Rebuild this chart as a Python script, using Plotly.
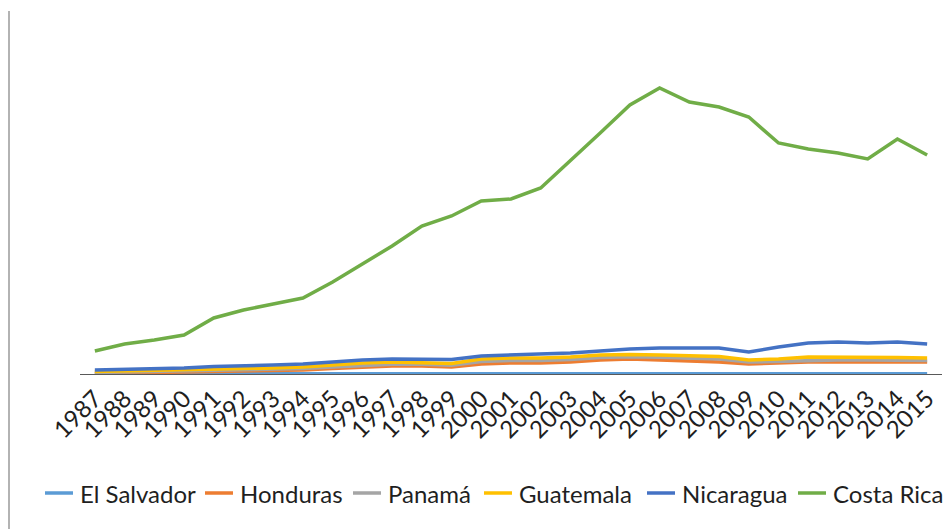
import plotly.graph_objects as go

years = [str(y) for y in range(1987, 2016)]

el_salvador = [3, 3, 3, 3, 3, 3, 3, 3, 3, 3, 3, 3, 3, 3, 3, 3, 3, 3, 3, 4, 8, 8, 3, 3, 6, 3, 3, 3, 3]
honduras = [5, 10, 15, 20, 30, 30, 35, 40, 55, 70, 80, 80, 70, 100, 110, 110, 120, 140, 150, 140, 130, 120, 100, 110, 120, 120, 120, 120, 120]
panama = [15, 20, 25, 30, 40, 42, 48, 55, 70, 88, 98, 97, 88, 125, 135, 135, 145, 165, 172, 168, 158, 150, 120, 128, 140, 140, 140, 138, 136]
guatemala = [25, 30, 35, 40, 50, 55, 60, 70, 90, 110, 120, 115, 105, 150, 160, 160, 170, 190, 195, 190, 180, 175, 140, 150, 170, 170, 170, 165, 160]
nicaragua = [40, 45, 50, 60, 75, 80, 90, 100, 120, 140, 150, 150, 145, 180, 190, 200, 210, 230, 250, 260, 260, 260, 220, 270, 310, 320, 310, 320, 300]
costa_rica = [230, 300, 340, 390, 560, 640, 700, 760, 920, 1100, 1280, 1480, 1580, 1730, 1750, 1860, 2130, 2410, 2690, 2860,
              2720, 2670, 2570, 2310, 2250, 2210, 2150, 2350, 2190]

series = [
    ("El Salvador", el_salvador, "#5B9BD5"),
    ("Honduras", honduras, "#ED7D31"),
    ("Panamá", panama, "#A5A5A5"),
    ("Guatemala", guatemala, "#FFC000"),
    ("Nicaragua", nicaragua, "#4472C4"),
    ("Costa Rica", costa_rica, "#70AD47"),
]

W, H = 947, 529
ML, MR, MT, MB = 80, 5, 20, 155
plot_w = W - ML - MR
plot_h = H - MT - MB

font = dict(family="Lato, 'Open Sans', sans-serif", size=24, color="#1f1f1f")

fig = go.Figure()
for name, vals, color in series:
    fig.add_trace(go.Scatter(
        x=years, y=vals, name=name, mode="lines",
        line=dict(color=color, width=3.5), showlegend=False,
    ))

# thin grey rule along the left edge
fig.add_shape(
    type="line", xref="paper", yref="paper",
    x0=(9 - ML) / plot_w, x1=(9 - ML) / plot_w,
    y0=(H - MB - 11) / plot_h, y1=(H - MB - H) / plot_h,
    line=dict(color="#b3b3b3", width=2),
)

# single-row legend under the axis: key swatch start (px) for each entry
legend_y_px = 493
legend_x_px = [45, 205, 353, 484, 647, 798]
swatch_len, text_gap = 28, 5
ly = 1 - legend_y_px / H
for (name, _, color), x0 in zip(series, legend_x_px):
    fig.add_shape(
        type="line", xref="paper", yref="paper",
        x0=(x0 - ML) / plot_w, x1=(x0 + swatch_len - ML) / plot_w,
        y0=(H - MB - legend_y_px) / plot_h, y1=(H - MB - legend_y_px) / plot_h,
        line=dict(color=color, width=3.5),
    )
    fig.add_annotation(
        text=name, xref="paper", yref="paper",
        x=(x0 + swatch_len + text_gap - ML) / plot_w,
        y=(H - MB - legend_y_px) / plot_h,
        xanchor="left", yanchor="middle", showarrow=False,
        font=font,
    )

fig.update_layout(
    width=W, height=H,
    margin=dict(l=ML, r=MR, t=MT, b=MB, autoexpand=False),
    paper_bgcolor="white", plot_bgcolor="white",
    font=font,
    showlegend=False,
    xaxis=dict(
        type="category", range=[-0.5, len(years) - 0.5],
        showgrid=False, zeroline=False, automargin=False,
        showline=True, linecolor="#595959", linewidth=1,
        tickangle=-45, tickfont=font, ticks="",
    ),
    yaxis=dict(
        range=[0, plot_h * 10], showgrid=False, zeroline=False,
        showline=False, showticklabels=False, ticks="",
    ),
)

fig.write_html("out.html")
